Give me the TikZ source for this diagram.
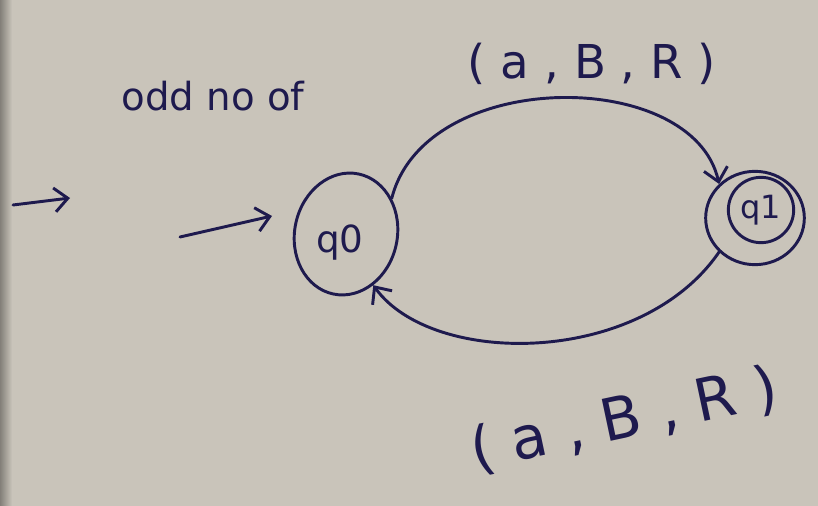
\documentclass[tikz,border=0pt]{standalone}
\usepackage{fontspec}
\setmainfont{DejaVu Sans}
\usetikzlibrary{arrows.meta,shapes.geometric}
\definecolor{paper}{HTML}{C9C4BA}
\definecolor{inkc}{HTML}{1E1A4E}
\begin{document}
\begin{tikzpicture}[x=0.75pt,y=-0.75pt,
  ink/.style={draw=inkc, line width=2.2pt, line cap=round, line join=round},
  barb/.style={-{Straight Barb[length=10pt,width=18pt,line width=2.2pt]}},
  lbl/.style={text=inkc, inner sep=0pt}]
\fill[paper] (0,0) rectangle (818,506);
\shade[left color=black!35!paper, right color=paper] (0,0) rectangle (12,506);
\useasboundingbox (0,0) rectangle (818,506);

% states
\node[ink, ellipse, minimum width=77pt, minimum height=92pt, rotate=-12, inner sep=0pt] (q0) at (346,234) {};
\node[lbl, font=\fontsize{28}{30}\selectfont] (q0t) at (340,243) {q0};
\node[ink, ellipse, minimum width=74pt, minimum height=70pt, inner sep=0pt] (q1) at (755,218) {};
\node[ink, circle, minimum size=49pt, inner sep=0pt, font=\fontsize{24}{26}\selectfont, text=inkc] (q1in) at (761,210) {q1};

% start arrows
\coordinate (s0) at (180,237);
\coordinate (sa) at (272,216);
\draw[ink, barb] (s0) -- (sa);
\coordinate (l0) at (13,205);
\coordinate (l1) at (70,198);
\draw[ink, barb] (l0) -- (l1);

% transitions
\draw[ink, barb] (q0.north east) .. controls (425,67) and (693,67) .. (q1.north west);
\draw[ink, barb] (q1.south west) .. controls (640,367) and (432,367) .. (q0.south east);

% labels
\node[lbl, font=\fontsize{35}{37}\selectfont] (lt) at (592,64) {( a , B , R )};
\node[lbl, font=\fontsize{44}{46}\selectfont, rotate=12] (lb) at (624,420) {( a , B , R )};
\node[lbl, font=\fontsize{29}{31}\selectfont] (odd) at (213,96) {odd no of};
\end{tikzpicture}
\end{document}
